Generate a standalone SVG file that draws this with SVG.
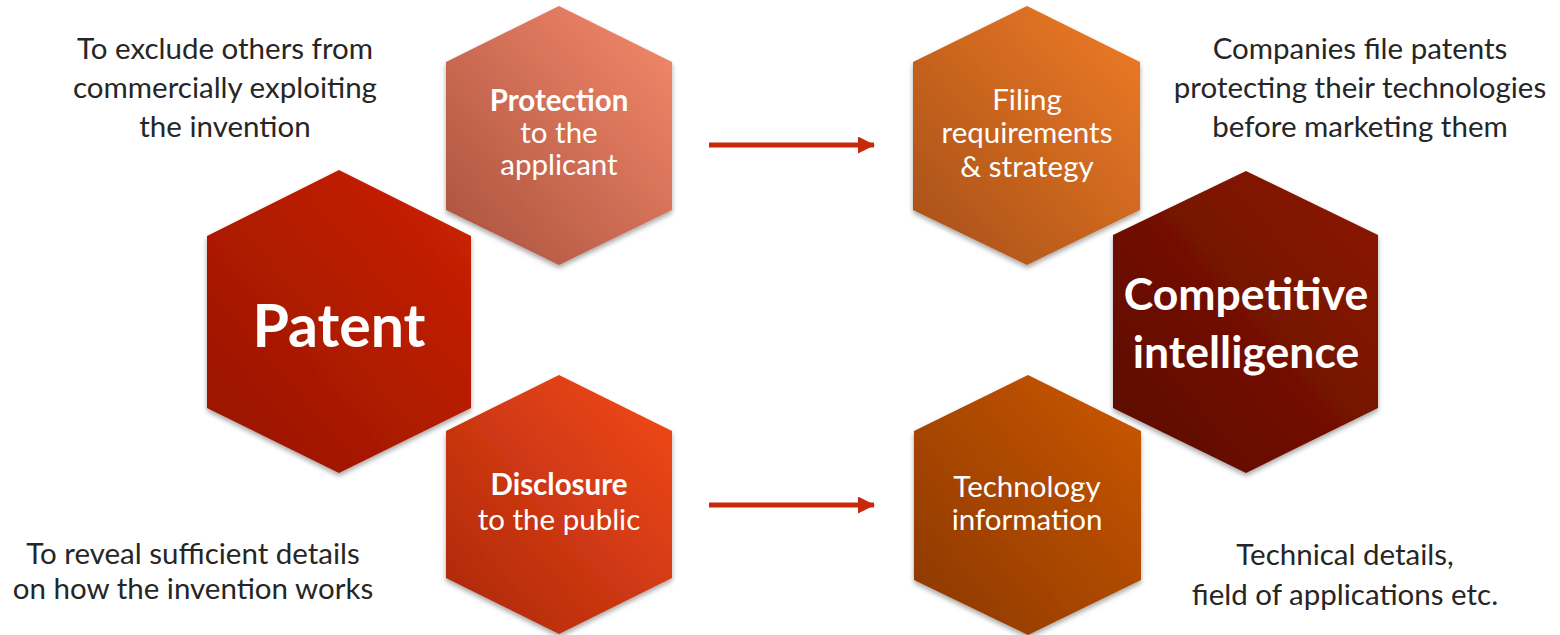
<svg xmlns="http://www.w3.org/2000/svg" width="1560" height="635" viewBox="0 0 1560 635">
<defs>
<linearGradient id="gPatent" x1="1" y1="0" x2="0" y2="1"><stop offset="0" stop-color="#CC2200"/><stop offset="1" stop-color="#951400"/></linearGradient>
<linearGradient id="gProt" x1="1" y1="0" x2="0" y2="1"><stop offset="0" stop-color="#F68A6C"/><stop offset="1" stop-color="#A8513D"/></linearGradient>
<linearGradient id="gDisc" x1="1" y1="0" x2="0" y2="1"><stop offset="0" stop-color="#F44A18"/><stop offset="1" stop-color="#AA270C"/></linearGradient>
<linearGradient id="gFile" x1="1" y1="0" x2="0" y2="1"><stop offset="0" stop-color="#F07C26"/><stop offset="1" stop-color="#A54F18"/></linearGradient>
<linearGradient id="gCI" x1="1" y1="0" x2="0" y2="1"><stop offset="0" stop-color="#8E1A00"/><stop offset="1" stop-color="#580800"/></linearGradient>
<linearGradient id="gTech" x1="1" y1="0" x2="0" y2="1"><stop offset="0" stop-color="#CC5805"/><stop offset="1" stop-color="#8A3702"/></linearGradient>
<filter id="sh" x="-10%" y="-10%" width="120%" height="125%"><feDropShadow dx="0" dy="3" stdDeviation="2.5" flood-color="#000" flood-opacity="0.35"/></filter>
<marker id="arr" viewBox="0 0 17 17" refX="16" refY="8.5" markerWidth="17" markerHeight="17" markerUnits="userSpaceOnUse" orient="auto"><path d="M0,0 L17,8.5 L0,17 Z" fill="#C8290A"/></marker>
</defs>
<style>
.hx{filter:url(#sh);}
.w{fill:#FFFFFF;font-family:Lato,"Open Sans","Liberation Sans",sans-serif;text-anchor:middle;}
.d{fill:#262626;font-family:Lato,"Open Sans","Liberation Sans",sans-serif;font-size:29.5px;text-anchor:middle;}
.b{font-weight:bold;}
.m{font-size:29.5px;}
.con{stroke:#C8290A;stroke-width:5;fill:none;}
</style>
<rect width="1560" height="635" fill="#FFFFFF"/>
<g id="patent">
<polygon class="hx" points="339,170 471,236 471,408 339,473 207,408 207,236" fill="url(#gPatent)"/>
<text class="w b" x="339" y="347" font-size="59">Patent</text>
</g>
<g id="protection">
<polygon class="hx" points="559,6 672,62 672,210 559,265 446,210 446,62" fill="url(#gProt)"/>
<text class="w m" x="559" y="111"><tspan class="b">Protection</tspan><tspan x="559" y="143">to the</tspan><tspan x="559" y="175">applicant</tspan></text>
</g>
<g id="disclosure">
<polygon class="hx" points="559,375 672,431 672,578 559,634 446,578 446,431" fill="url(#gDisc)"/>
<text class="w m" x="559" y="495"><tspan class="b">Disclosure</tspan><tspan x="559" y="530">to the public</tspan></text>
</g>
<g id="filing">
<polygon class="hx" points="1027,6 1140,62 1140,210 1027,265 913,210 913,62" fill="url(#gFile)"/>
<text class="w m" x="1027" y="110">Filing<tspan x="1027" y="143">requirements</tspan><tspan x="1027" y="177">&amp; strategy</tspan></text>
</g>
<g id="competitive-intelligence">
<polygon class="hx" points="1246,171 1378,235 1378,408 1246,473 1113,408 1113,235" fill="url(#gCI)"/>
<text class="w b" x="1246" y="310" font-size="44.5">Competitive<tspan x="1246" y="368">intelligence</tspan></text>
</g>
<g id="technology">
<polygon class="hx" points="1028,375 1141,431 1141,580 1028,635 914,580 914,431" fill="url(#gTech)"/>
<text class="w m" x="1027" y="497">Technology<tspan x="1027" y="530">information</tspan></text>
</g>
<g id="connectors">
<line class="con" x1="709" y1="145" x2="874" y2="145" marker-end="url(#arr)"/>
<line class="con" x1="709" y1="505" x2="874" y2="505" marker-end="url(#arr)"/>
</g>
<g id="notes">
<text class="d" x="225" y="59">To exclude others from<tspan x="225" y="98">commercially exploiting</tspan><tspan x="225" y="137">the invention</tspan></text>
<text class="d" x="1360" y="59">Companies file patents<tspan x="1360" y="98">protecting their technologies</tspan><tspan x="1360" y="137">before marketing them</tspan></text>
<text class="d" x="193" y="564">To reveal sufficient details<tspan x="193" y="599">on how the invention works</tspan></text>
<text class="d" x="1345" y="565">Technical details,<tspan x="1345" y="605">field of applications etc.</tspan></text>
</g>
</svg>
